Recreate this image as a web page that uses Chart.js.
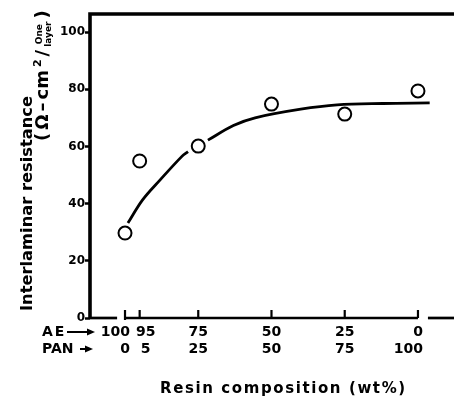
<!DOCTYPE html>
<html lang="en">
<head>
<meta charset="utf-8">
<title>Interlaminar resistance vs resin composition</title>
<script src="https://cdn.jsdelivr.net/npm/chart.js@4.4.1/dist/chart.umd.min.js"></script>
<style>
  html, body { margin: 0; padding: 0; background: #fff; overflow: hidden; }
  canvas { display: block; }
</style>
</head>
<body>
<canvas id="chart" width="454" height="396"></canvas>

<script>
// resin composition at each tick (wt%), x axis runs in PAN wt%
const aeLabels = ['100', '95', '75', '50', '25', '0'];
const panLabels = ['0', '5', '25', '50', '75', '100'];
const panTicks = [0, 5, 25, 50, 75, 100];
const yTicks = [0, 20, 40, 60, 80, 100];

// measured points
const measuredPan = [0, 5, 25, 50, 75, 100];
const measuredRes = [29.7, 54.9, 60.1, 74.8, 71.3, 79.4];

// trend curve (null = break where it meets the circle)
const curvePan = [1, 6, 12, 19.5, 21.5, 25, 28.3, 37, 44.4, 60, 72.4, 88, 104];
const curveRes = [33.2, 41.3, 48.3, 56.6, 58.2, null, 62.2, 67.3, 70, 73, 74.5, 75, 75.2];

const FONT = '"DejaVu Sans", "Liberation Sans", sans-serif';

function arrow(ctx, x0, x1, yy) {
  ctx.lineWidth = 2;
  ctx.beginPath();
  ctx.moveTo(x0, yy);
  ctx.lineTo(x1 - 5, yy);
  ctx.stroke();
  ctx.beginPath();
  ctx.moveTo(x1, yy);
  ctx.lineTo(x1 - 8, yy - 3.5);
  ctx.lineTo(x1 - 8, yy + 3.5);
  ctx.closePath();
  ctx.fill();
}

const frame = {
  id: 'frame',
  afterDraw(chart) {
    const ctx = chart.ctx;
    const a = chart.chartArea;
    const x = chart.scales.x, y = chart.scales.y;
    const y0 = y.getPixelForValue(0);
    ctx.save();
    ctx.strokeStyle = '#000';
    ctx.fillStyle = '#000';

    // left and top spines
    ctx.lineWidth = 3.6;
    ctx.lineJoin = 'miter';
    ctx.beginPath();
    ctx.moveTo(a.left, y0 + 1);
    ctx.lineTo(a.left, a.top);
    ctx.lineTo(a.right, a.top);
    ctx.stroke();

    // broken bottom axis
    ctx.lineWidth = 2.7;
    const seg = (p0, p1) => {
      ctx.beginPath();
      ctx.moveTo(x.getPixelForValue(p0), y0);
      ctx.lineTo(x.getPixelForValue(p1), y0);
      ctx.stroke();
    };
    seg(x.min, -2.7);
    seg(0, 100);
    seg(103.4, x.max);

    // inward ticks on the composition axis
    ctx.lineWidth = 2.2;
    panTicks.forEach((v, i) => {
      const px = x.getPixelForValue(v);
      ctx.beginPath();
      ctx.moveTo(px, y0 + (i === 0 ? 2 : 0));
      ctx.lineTo(px, y0 - 8);
      ctx.stroke();
    });

    // two rows of tick labels
    ctx.font = 'bold 14px ' + FONT;
    ctx.textBaseline = 'middle';
    const last = panTicks.length - 1;
    panTicks.forEach((v, i) => {
      const px = x.getPixelForValue(v);
      let tx = px, al = 'center';
      if (i === 0 || i === last) { tx = px + 5; al = 'right'; }
      else if (i === 1) { tx = px + 6; }
      ctx.textAlign = al;
      ctx.fillText(aeLabels[i], tx, 332);
      ctx.fillText(panLabels[i], tx, 349);
    });

    // row captions with arrows
    ctx.textAlign = 'left';
    ctx.letterSpacing = '2px';
    ctx.fillText('AE', 42, 332);
    ctx.letterSpacing = '0px';
    ctx.fillText('PAN', 42, 349);
    arrow(ctx, 67, 95, 332);
    arrow(ctx, 80, 93, 349);

    // x title
    ctx.font = 'bold 15px ' + FONT;
    ctx.textBaseline = 'alphabetic';
    ctx.letterSpacing = '1.6px';
    ctx.fillText('Resin composition (wt%)', 160, 393);
    ctx.letterSpacing = '0px';

    // y title, first line
    ctx.save();
    ctx.translate(32, 203.5);
    ctx.rotate(-Math.PI / 2);
    ctx.textAlign = 'center';
    ctx.font = 'bold 16.3px ' + FONT;
    ctx.fillText('Interlaminar resistance', 0, 0);
    ctx.restore();

    // y title, unit line: (Ω–cm²/ One over layer )
    ctx.save();
    ctx.translate(48, 141);
    ctx.rotate(-Math.PI / 2);
    ctx.textAlign = 'left';
    const gap = 3;
    let cx = 0;
    const put = (t, size, dy) => {
      ctx.font = 'bold ' + size + 'px ' + FONT;
      ctx.fillText(t, cx, dy);
      cx += ctx.measureText(t).width + gap;
    };
    put('(', 18, 0);
    put('Ω', 18, 0);
    put('–', 18, 0);
    put('cm', 18, 0);
    put('2', 11, -7);
    put('/', 18, 0);
    ctx.font = 'bold 9px ' + FONT;
    const wOne = ctx.measureText('One').width;
    const wLayer = ctx.measureText('layer').width;
    const wf = Math.max(wOne, wLayer);
    ctx.fillText('One', cx + (wf - wOne) / 2, -6);
    ctx.fillText('layer', cx + (wf - wLayer) / 2, 3);
    cx += wf + gap;
    put(')', 18, 0);
    ctx.restore();

    ctx.restore();
  }
};

new Chart(document.getElementById('chart'), {
  type: 'line',
  data: {
    datasets: [
      {
        label: 'measured',
        data: measuredPan.map((p, i) => ({ x: p, y: measuredRes[i] })),
        showLine: false,
        pointRadius: 6.5,
        pointBorderWidth: 2,
        pointBackgroundColor: '#fff',
        pointBorderColor: '#000',
        order: 0
      },
      {
        label: 'trend',
        data: curvePan.map((p, i) => ({ x: p, y: curveRes[i] })),
        borderColor: '#000',
        borderWidth: 2.8,
        pointRadius: 0,
        tension: 0.35,
        spanGaps: false,
        fill: false,
        order: 1
      }
    ]
  },
  options: {
    responsive: false,
    animation: false,
    events: [],
    layout: { autoPadding: false, padding: { top: 14, right: 0, bottom: 0, left: 0 } },
    plugins: { legend: { display: false }, tooltip: { enabled: false } },
    scales: {
      x: {
        type: 'linear',
        min: -11.95,
        max: 112.3,
        afterBuildTicks: s => { s.ticks = panTicks.map(v => ({ value: v })); },
        afterFit: s => { s.height = 78; },
        grid: { display: false },
        border: { display: false },
        ticks: { display: false }
      },
      y: {
        type: 'linear',
        min: 0,
        max: 106.3,
        afterBuildTicks: s => { s.ticks = yTicks.map(v => ({ value: v })); },
        afterFit: s => { s.width = 90; },
        grid: { drawOnChartArea: false, drawTicks: true, tickLength: 5, tickWidth: 2.5, color: '#000' },
        border: { display: false },
        ticks: { padding: 0, color: '#000', font: { family: FONT, weight: 'bold', size: 12 } }
      }
    }
  },
  plugins: [frame]
});
</script>
</body>
</html>
